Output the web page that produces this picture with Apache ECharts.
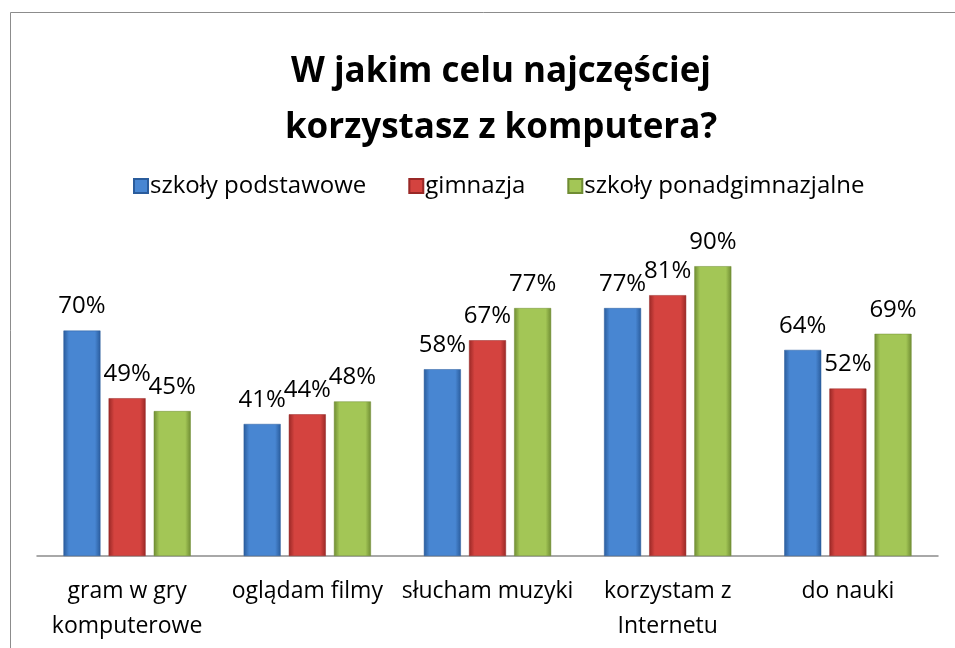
<!DOCTYPE html>
<html>
<head>
<meta charset="utf-8">
<script src="https://cdn.jsdelivr.net/npm/echarts@6/dist/echarts.min.js"></script>
<style>
  html, body { margin: 0; padding: 0; background: #fff; }
  #chart { width: 955px; height: 648px; }
</style>
</head>
<body>
<div id="chart"></div>
<script>
// dane z wykresu
var categories = ['gram w gry\nkomputerowe', 'oglądam filmy', 'słucham muzyki', 'korzystam z\nInternetu', 'do nauki'];
var seriesNames = ['szkoły podstawowe', 'gimnazja', 'szkoły ponadgimnazjalne'];
var podstawowe = [70, 41, 58, 77, 64];
var gimnazja = [49, 44, 67, 81, 52];
var ponadgimnazjalne = [45, 48, 77, 90, 69];

var font = '"Open Sans", Lato, sans-serif';

// gradient poziomy - ciemne brzegi, jasny środek
function grad(edge, mid) {
  return new echarts.graphic.LinearGradient(0, 0, 1, 0, [
    { offset: 0, color: edge },
    { offset: 0.15, color: mid },
    { offset: 0.85, color: mid },
    { offset: 1, color: edge }
  ]);
}

function makeSeries(name, data, edge, mid) {
  return {
    name: name,
    type: 'bar',
    data: data,
    barWidth: 37,
    barGap: '22%',
    itemStyle: { color: grad(edge, mid), borderColor: edge, borderWidth: 0.5 },
    label: {
      show: true,
      position: 'top',
      distance: 12,
      formatter: '{c}%',
      color: '#000',
      fontSize: 24,
      fontFamily: font
    }
  };
}

var chart = echarts.init(document.getElementById('chart'));
chart.setOption({
  backgroundColor: '#ffffff',
  animation: false,
  color: ['#3f7dcb', '#c63b39', '#98bb47'],
  title: {
    text: 'W jakim celu najczęściej\nkorzystasz z komputera?',
    left: 496,
    top: 39,
    textAlign: 'center',
    textStyle: {
      fontSize: 35,
      fontWeight: 'bold',
      fontFamily: font,
      lineHeight: 56,
      color: '#000'
    }
  },
  legend: {
    top: 169,
    left: 128,
    itemWidth: 14,
    itemHeight: 14,
    itemGap: 42,
    icon: 'rect',
    textStyle: { fontSize: 24, fontFamily: font, color: '#000', padding: [0, 0, 0, -3] },
    data: seriesNames
  },
  graphic: [{
    type: 'rect',
    shape: { x: 10.5, y: 12.5, width: 960, height: 660 },
    style: { fill: 'none', stroke: '#8c8c8c', lineWidth: 1 },
    silent: true
  }],
  grid: { left: 37, right: 17, top: 234, bottom: 92 },
  xAxis: {
    type: 'category',
    data: categories,
    axisLine: { lineStyle: { color: '#8c8c8c', width: 1.5 } },
    axisTick: { show: false },
    axisLabel: {
      color: '#000',
      fontSize: 23,
      fontFamily: font,
      lineHeight: 35,
      margin: 18,
      interval: 0
    }
  },
  yAxis: {
    type: 'value',
    min: 0,
    max: 100,
    show: false,
    splitLine: { show: false }
  },
  series: [
    makeSeries(seriesNames[0], podstawowe, '#2a5c9c', '#4886d2'),
    makeSeries(seriesNames[1], gimnazja, '#992826', '#d4433f'),
    makeSeries(seriesNames[2], ponadgimnazjalne, '#6f8c33', '#a3c656')
  ]
});
</script>
</body>
</html>
